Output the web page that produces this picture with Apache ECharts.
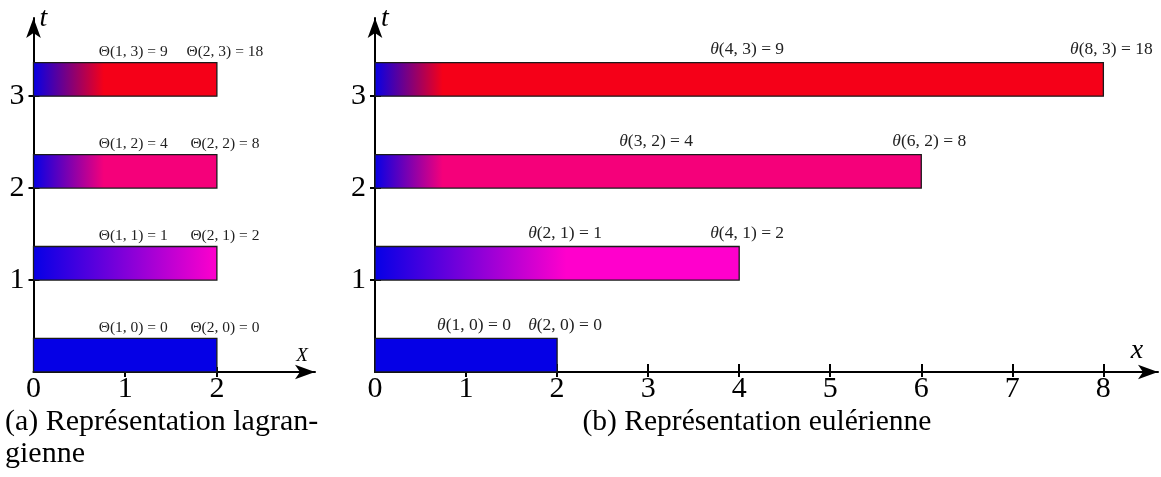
<!DOCTYPE html>
<html><head><meta charset="utf-8">
<script src="https://cdn.jsdelivr.net/npm/echarts@6/dist/echarts.min.js"></script>
<style>html,body{margin:0;padding:0;background:#fff}#c{width:1161px;height:477px}</style>
</head><body><div id="c"></div>
<script>
// ---- data ----
const times = [0, 1, 2, 3];
const lagLength = [2, 2, 2, 2];          // lagrangian bar lengths (X)
const eulLength = [2, 4, 6, 8];          // eulerian bar lengths (x)
const startColor = '#0500e6';
const barColors = ['#0500e6', '#ff00cc', '#f5007a', '#f50018'];
const lagGradEnd = [2, 2, 0.77, 0.77];   // where the colour saturates (X units)
const eulGradEnd = [2, 2.1, 0.75, 0.75]; // (x units)
const lagPointsX = [[1, 2], [1, 2], [1, 2], [1, 2]];
const eulPointsX = [[1, 2], [2, 4], [3, 6], [4, 8]];
const thetaValues = [[0, 0], [1, 2], [4, 8], [9, 18]];
const lagXTicks = [0, 1, 2];
const eulXTicks = [0, 1, 2, 3, 4, 5, 6, 7, 8];
const tTicks = [1, 2, 3];
const captionA = ['(a) Représentation lagran-', 'gienne'];
const captionB = '(b) Représentation eulérienne';

const SERIF = 'Liberation Serif';
const BAR_H = 0.365;

const chart = echarts.init(document.getElementById('c'), null, {renderer: 'canvas'});

function barRender(params, api) {
  const x0 = api.value(0), x1 = api.value(1), t = api.value(2), g = api.value(3), ci = api.value(4);
  const p0 = api.coord([x0, t]);
  const p1 = api.coord([x1, t + BAR_H]);
  const frac = Math.min(1, g / (x1 - x0));
  const fill = new echarts.graphic.LinearGradient(0, 0, 1, 0, [
    {offset: 0, color: startColor},
    {offset: frac, color: barColors[ci]},
    {offset: 1, color: barColors[ci]}
  ]);
  return {
    type: 'rect',
    shape: {x: p0[0], y: p1[1], width: p1[0] - p0[0], height: p0[1] - p1[1]},
    style: {fill: fill, stroke: '#1a1a1a', lineWidth: 1.3}
  };
}

function labelRender(kind) {
  return function (params, api) {
    const x = api.value(0), t = api.value(1), v = api.value(2);
    const p = api.coord([x, t + BAR_H]);
    const sym = kind === 'lag' ? 'Θ' : '{i|θ}';
    const fs = kind === 'lag' ? 15.5 : 17.5;
    return {
      type: 'text',
      x: p[0] + 8,
      y: p[1] - (kind === 'lag' ? 11 : 13),
      style: {
        text: sym + '(' + x + ', ' + t + ') = ' + v,
        fontFamily: SERIF,
        fontSize: fs,
        fill: '#222',
        align: 'center',
        verticalAlign: 'middle',
        rich: {i: {fontStyle: 'italic', fontFamily: SERIF, fontSize: fs, fill: '#222'}}
      }
    };
  };
}

const lagBars = times.map((t, i) => [0, lagLength[i], t, lagGradEnd[i], i]);
const eulBars = times.map((t, i) => [0, eulLength[i], t, eulGradEnd[i], i]);
const lagLabels = [], eulLabels = [];
times.forEach((t, i) => {
  lagPointsX[i].forEach((X, j) => lagLabels.push([X, t, thetaValues[i][j]]));
  eulPointsX[i].forEach((x, j) => eulLabels.push([x, t, thetaValues[i][j]]));
});

const axisLineStyle = {color: '#000', width: 2};
const tickStyle = {color: '#000', width: 2};
const labelStyle = {fontFamily: SERIF, fontSize: 30, color: '#000'};

function mainX(grid, max, ticks, name, nameSize, nameGap) {
  return {
    gridIndex: grid, type: 'value', min: 0, max: max,
    axisLine: {show: true, symbol: ['none', 'arrow'], symbolSize: [11, 20], lineStyle: axisLineStyle},
    axisTick: {show: true, customValues: ticks.filter(v => v !== 0), length: 5, lineStyle: tickStyle},
    axisLabel: Object.assign({customValues: ticks, margin: 2}, labelStyle),
    splitLine: {show: false},
    name: name, nameLocation: 'end', nameGap: nameGap,
    nameTextStyle: {fontFamily: SERIF, fontStyle: 'italic', fontSize: nameSize, color: '#000',
      align: 'center', verticalAlign: 'bottom', padding: [0, 0, 7, 0]}
  };
}
function innerX(grid, max, ticks, len) {
  return {
    gridIndex: grid, type: 'value', min: 0, max: max, position: 'bottom',
    axisLine: {show: false},
    axisTick: {show: true, inside: true, customValues: ticks.filter(v => v !== 0), length: len, lineStyle: tickStyle},
    axisLabel: {show: false}, splitLine: {show: false}
  };
}
function mainY(grid, max) {
  return {
    gridIndex: grid, type: 'value', min: 0, max: max,
    axisLine: {show: true, symbol: ['none', 'arrow'], symbolSize: [11, 20], lineStyle: axisLineStyle},
    axisTick: {show: true, customValues: tTicks, length: 5, lineStyle: tickStyle},
    axisLabel: Object.assign({customValues: tTicks, margin: 9}, labelStyle),
    splitLine: {show: false},
    name: 't', nameLocation: 'end', nameGap: -1,
    nameTextStyle: {fontFamily: SERIF, fontStyle: 'italic', fontSize: 28, color: '#000',
      align: 'left', verticalAlign: 'middle', padding: [0, 0, 0, 6]}
  };
}
function innerY(grid, max) {
  return {
    gridIndex: grid, type: 'value', min: 0, max: max, position: 'left',
    axisLine: {show: false},
    axisTick: {show: true, inside: true, customValues: tTicks, length: 6, lineStyle: tickStyle},
    axisLabel: {show: false}, splitLine: {show: false}
  };
}

const Y_MAX = 3.85;
const LAG_MAX = 3.07;
const EUL_MAX = 8.6;
const option = {
  animation: false,
  backgroundColor: '#fff',
  grid: [
    {left: 33.5, top: 18, width: 281.5, height: 354, containLabel: false, outerBoundsMode: 'none'},
    {left: 375, top: 18, width: 783, height: 354, containLabel: false, outerBoundsMode: 'none'}
  ],
  xAxis: [
    mainX(0, LAG_MAX, lagXTicks, 'X', 19, -13),
    innerX(0, LAG_MAX, lagXTicks, 5),
    mainX(1, EUL_MAX, eulXTicks, 'x', 28, -21),
    innerX(1, EUL_MAX, eulXTicks, 8)
  ],
  yAxis: [mainY(0, Y_MAX), innerY(0, Y_MAX), mainY(1, Y_MAX), innerY(1, Y_MAX)],
  series: [
    {type: 'custom', xAxisIndex: 0, yAxisIndex: 0, data: lagBars, renderItem: barRender,
      encode: {x: [0, 1], y: 2}, z: 3},
    {type: 'custom', xAxisIndex: 0, yAxisIndex: 0, data: lagLabels, renderItem: labelRender('lag'),
      encode: {x: 0, y: 1}, z: 4},
    {type: 'custom', xAxisIndex: 2, yAxisIndex: 2, data: eulBars, renderItem: barRender,
      encode: {x: [0, 1], y: 2}, z: 3},
    {type: 'custom', xAxisIndex: 2, yAxisIndex: 2, data: eulLabels, renderItem: labelRender('eul'),
      encode: {x: 0, y: 1}, z: 4}
  ],
  graphic: [
    {type: 'text', x: 5, y: 422, style: {text: captionA[0], fontFamily: SERIF, fontSize: 30, fill: '#000', verticalAlign: 'middle'}},
    {type: 'text', x: 5, y: 454, style: {text: captionA[1], fontFamily: SERIF, fontSize: 30, fill: '#000', verticalAlign: 'middle'}},
    {type: 'text', x: 757, y: 422, style: {text: captionB, fontFamily: SERIF, fontSize: 29.5, fill: '#000', align: 'center', verticalAlign: 'middle'}}
  ]
};
chart.setOption(option);
</script></body></html>
